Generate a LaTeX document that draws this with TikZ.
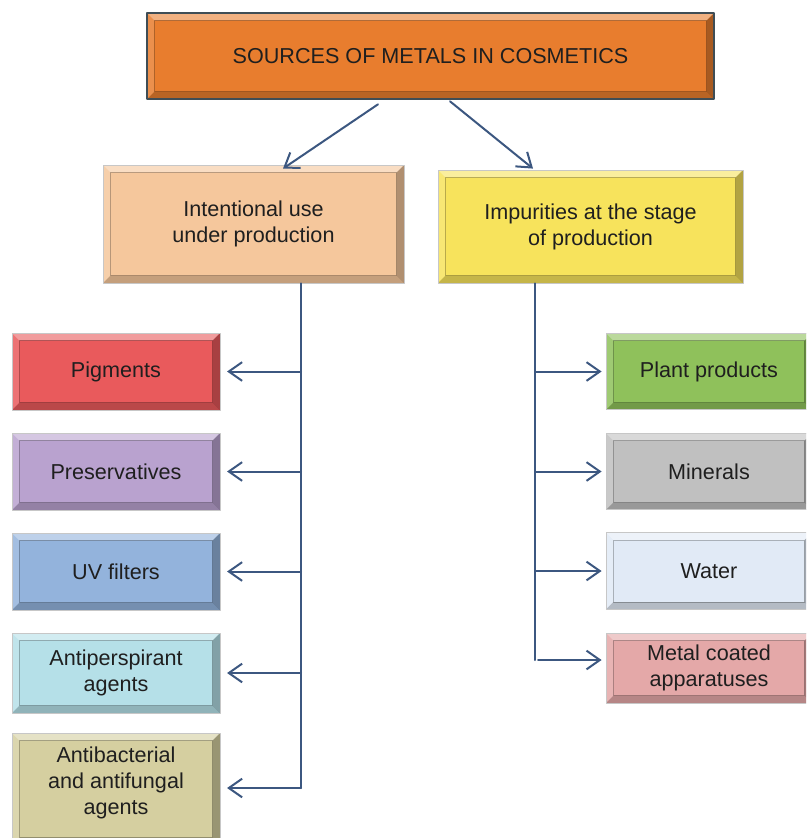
\documentclass[tikz,border=0pt]{standalone}
\usepackage{xcolor}
\usepackage{fontspec}
\setmainfont{Liberation Sans}
\usepackage{tikz}
\usetikzlibrary{calc}
\usetikzlibrary{arrows.meta}
\definecolor{eyxdse}{rgb}{0.91,0.49,0.18}
\definecolor{tfudvv}{rgb}{0.247,0.302,0.333}
\definecolor{fvcxzc}{rgb}{0.961,0.78,0.612}
\definecolor{fxetvc}{rgb}{0.969,0.89,0.361}
\definecolor{ezvavc}{rgb}{0.914,0.353,0.361}
\definecolor{bzascf}{rgb}{0.725,0.635,0.812}
\definecolor{ztbtdc}{rgb}{0.576,0.702,0.863}
\definecolor{bveqey}{rgb}{0.71,0.878,0.91}
\definecolor{dvcfaq}{rgb}{0.835,0.812,0.627}
\definecolor{yfcrvb}{rgb}{0.561,0.757,0.357}
\definecolor{cqcqcq}{rgb}{0.753,0.753,0.753}
\definecolor{ereafw}{rgb}{0.882,0.918,0.965}
\definecolor{euayay}{rgb}{0.894,0.659,0.659}
\definecolor{tcvxyq}{rgb}{0.235,0.341,0.502}
\definecolor{rfrfrf}{rgb}{0.122,0.122,0.122}
\tikzstyle{every node}=[font=\fontsize{16.2}{19.5}\selectfont,text=rfrfrf]
\tikzstyle{bevelbox}=[rectangle,draw=black!22,line width=0.6pt,align=center,inner sep=0pt,
    path picture={
        \path (path picture bounding box.north west) coordinate (pnw) (path picture bounding box.south east) coordinate (pse);
        \fill[white,opacity=0.4] (pnw) -- (pnw -| pse) -- ($(pnw -| pse)+(-5.5pt,-5.5pt)$) -- ($(pnw)+(5.5pt,-5.5pt)$) -- cycle;
        \fill[white,opacity=0.15] (pnw) -- ($(pnw)+(5.5pt,-5.5pt)$) -- ($(pnw |- pse)+(5.5pt,5.5pt)$) -- (pnw |- pse) -- cycle;
        \fill[black,opacity=0.2] (pnw |- pse) -- (pse) -- ($(pse)+(-5.5pt,5.5pt)$) -- ($(pnw |- pse)+(5.5pt,5.5pt)$) -- cycle;
        \fill[black,opacity=0.28] (pnw -| pse) -- (pse) -- ($(pse)+(-5.5pt,5.5pt)$) -- ($(pnw -| pse)+(-5.5pt,-5.5pt)$) -- cycle;
        \draw[black,opacity=0.25,line width=0.5pt] ($(pnw)+(5.5pt,-5.5pt)$) rectangle ($(pse)+(-5.5pt,5.5pt)$);
    }]
\tikzstyle{leftbox}=[bevelbox,minimum width=156pt,minimum height=57.75pt]
\tikzstyle{rightbox}=[bevelbox,minimum width=154.5pt,minimum height=57.5pt]

\begin{document}
\begin{tikzpicture}[line cap=round,line join=round,>={Straight Barb[length=10pt,width=14pt]},x=0.75pt,y={(0pt,-0.75pt)}]
        \useasboundingbox (0,0) rectangle (806,838);
        \clip (0,0) rectangle (806,838);
        \node[bevelbox,fill=eyxdse,draw=tfudvv,line width=2pt,minimum width=425.25pt,minimum height=64.5pt] (src) at (430.5,56) {SOURCES OF METALS IN COSMETICS};
        \node[bevelbox,fill=fvcxzc,minimum width=225.75pt,minimum height=88.5pt] (intent) at (253.5,224) {Intentional use\\under production};
        \node[bevelbox,fill=fxetvc,minimum width=228.75pt,minimum height=84.75pt] (impur) at (590.5,226.5) {Impurities at the stage\\of production};
        \node[leftbox,fill=ezvavc] (pigm) at (116,371.5) {Pigments};
        \node[leftbox,fill=bzascf] (prese) at (116,471.5) {Preservatives};
        \node[leftbox,fill=ztbtdc] (uvfil) at (116,571.5) {UV filters};
        \node[leftbox,fill=bveqey,minimum height=60pt] (antip) at (116,673) {Antiperspirant\\agents};
        \node[leftbox,fill=dvcfaq,minimum height=84pt,text depth=12.5pt] (antib) at (116,789) {Antibacterial\\and antifungal\\agents};
        \node[rightbox,fill=yfcrvb] (plant) at (709,371.5) {Plant products};
        \node[rightbox,fill=cqcqcq] (miner) at (709,471.5) {Minerals};
        \node[rightbox,fill=ereafw] (water) at (709,571) {Water};
        \node[rightbox,fill=euayay,minimum height=52.5pt] (metal) at (709,668) {Metal coated\\apparatuses};
        \begin{scope}[color=tcvxyq,line width=1.5pt]
            \draw [->] ($(src.south)+(-52.5,4)$) -- ($(intent.north)+(29.5,4)$);
            \draw [->] ($(src.south)+(19.5,1)$) -- ($(impur.north)+(-57.5,-1)$);
            \coordinate (lt) at ($(intent.south)+(47.5,0)$);
            \coordinate (lb) at (301,788);
            \draw (lt) -- (lb);
            \draw [->,shorten >=5pt] (lt |- pigm.east) -- (pigm.east);
            \draw [->,shorten >=5pt] (lt |- prese.east) -- (prese.east);
            \draw [->,shorten >=5pt] (lt |- uvfil.east) -- (uvfil.east);
            \draw [->,shorten >=5pt] (lt |- antip.east) -- (antip.east);
            \draw [->,shorten >=5pt] (lb) -- (lb -| antib.east);
            \coordinate (rt) at ($(impur.south)+(-55.5,0)$);
            \coordinate (rb) at (535,660);
            \draw (rt) -- (rb);
            \draw [->,shorten >=3pt] (rt |- plant.west) -- (plant.west);
            \draw [->,shorten >=3pt] (rt |- miner.west) -- (miner.west);
            \draw [->,shorten >=3pt] (rt |- water.west) -- (water.west);
            \draw [->,shorten >=3pt] ($(rb)+(3,0)$) -- (rb -| metal.west);
        \end{scope}
\end{tikzpicture}
\end{document}
